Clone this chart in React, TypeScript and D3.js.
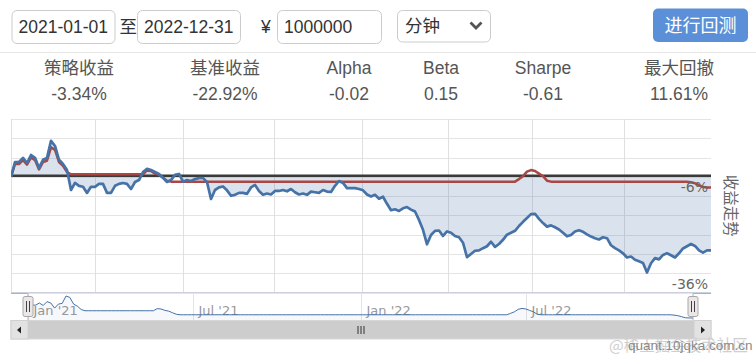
import React from "react";
import * as d3 from "d3";

// ---------- data ----------
const statLabels = ["策略收益", "基准收益", "Alpha", "Beta", "Sharpe", "最大回撤"];
const statValues = ["-3.34%", "-22.92%", "-0.02", "0.15", "-0.61", "11.61%"];

const startDate = "2021-01-01";
const endDate = "2022-12-31";
const capital = "1000000";
const frequency = "分钟";
const runLabel = "进行回测";
const axisTitle = "收益走势";

// number of trading-day intervals covered by the chart
const TRADING_DAYS = 484;

// benchmark cumulative return (%), sampled evenly over the trading days
const benchmarkReturn = [
  0, 4.6, 4.6, 5.9, 4.3, 6.8, 5.9, 2.8, 5.3, 5.9,
  11.2, 9.6, 5.3, 4.0, 2.1, -4.1, -1.9, -2.8, -3.1, -5.0,
  -3.1, -3.1, -2.2, -2.2, -5.0, -5.0, -2.8, -2.2, -1.9, -2.2,
  -3.8, -1.6, -1.0, 1.5, 2.5, 2.1, 1.5, 0.9, -0.3, -1.6,
  -1.0, 0.6, 0.9, -1.5, -1.0, -1.3, -0.7, -0.4, -0.4, -1.6,
  -6.9, -4.1, -3.3, -3.0, -4.2, -5.9, -5.6, -5.0, -5.0, -5.3,
  -3.3, -2.5, -4.4, -5.6, -5.2, -5.5, -4.4, -4.4, -4.1, -4.5,
  -3.8, -4.8, -5.5, -5.2, -5.6, -4.6, -4.8, -5.0, -4.1, -4.6,
  -4.7, -2.8, -1.3, -1.9, -3.5, -3.5, -3.5, -3.8, -4.2, -5.5,
  -6.1, -5.6, -6.8, -6.2, -8.4, -10.4, -10.1, -10.6, -9.8, -9.4,
  -10.2, -10.8, -13.4, -16.5, -21.0, -18.1, -16.8, -16.7, -18.4, -17.0,
  -17.4, -18.4, -18.8, -20.5, -25.0, -24.0, -23.0, -22.9, -22.2, -21.6,
  -20.2, -21.8, -20.9, -19.6, -18.0, -17.4, -16.8, -15.3, -14.0, -12.8,
  -11.6, -11.5, -13.1, -14.4, -15.5, -15.1, -15.7, -16.4, -17.4, -18.5,
  -18.1, -17.0, -16.6, -17.1, -17.9, -18.6, -19.1, -19.5, -18.8, -19.1,
  -21.3, -22.2, -22.9, -23.8, -25.1, -24.8, -25.8, -26.3, -26.8, -29.8,
  -26.9, -25.3, -25.7, -24.3, -23.8, -24.4, -25.1, -23.8, -22.3, -21.6,
  -20.9, -21.5, -22.9, -23.6, -22.9, -22.92,
];

// strategy cumulative return (%), same sampling
const strategyReturn = [
  0, 4.0, 4.0, 5.2, 3.8, 6.0, 5.2, 2.3, 4.6, 5.0,
  9.2, 8.4, 4.6, 3.4, 1.5, 0.8, 0.8, 0.8, 0.8, 0.8,
  0.8, 0.8, 0.8, 0.8, 0.8, 0.8, 0.8, 0.8, 0.8, 0.8,
  0.8, 0.8, 0.8, 0.8, 2.0, 1.8, 1.0, 0.6, -0.3, -1.2,
  -1.5, -1.5, -1.5, -1.5, -1.5, -1.5, -1.5, -1.5, -1.5, -1.5,
  -1.5, -1.5, -1.5, -1.5, -1.5, -1.5, -1.5, -1.5, -1.5, -1.5,
  -1.5, -1.5, -1.5, -1.5, -1.5, -1.5, -1.5, -1.5, -1.5, -1.5,
  -1.5, -1.5, -1.5, -1.5, -1.5, -1.5, -1.5, -1.5, -1.5, -1.5,
  -1.5, -1.5, -1.5, -1.5, -1.5, -1.5, -1.5, -1.5, -1.5, -1.5,
  -1.5, -1.5, -1.5, -1.5, -1.5, -1.5, -1.5, -1.5, -1.5, -1.5,
  -1.5, -1.5, -1.5, -1.5, -1.5, -1.5, -1.5, -1.5, -1.5, -1.5,
  -1.5, -1.5, -1.5, -1.5, -1.5, -1.5, -1.5, -1.5, -1.5, -1.5,
  -1.5, -1.5, -1.5, -1.5, -1.5, -1.5, -1.5, -0.7, 0.2, 1.6,
  2.1, 1.8, 1.0, 0.2, -1.2, -1.5, -1.5, -1.5, -1.5, -1.5,
  -1.5, -1.5, -1.5, -1.5, -1.5, -1.5, -1.5, -1.5, -1.5, -1.5,
  -1.5, -1.5, -1.5, -1.5, -1.5, -1.5, -1.5, -1.5, -1.5, -1.5,
  -1.5, -1.5, -1.5, -1.5, -1.5, -1.5, -1.5, -1.5, -1.5, -1.5,
  -1.7, -2.0, -2.6, -3.2, -3.3, -3.34,
];

// trading-day index of each quarter start (vertical grid lines)
const quarterStartDays = [0, 58, 119, 182, 243, 302, 360, 424];
const yGridTicks = [18, 12, 6, 0, -6, -12, -18, -24, -30, -36];
const yLabelTicks = [-6, -36];
const navTickDates = ["2021-01-01", "2021-07-01", "2022-01-01", "2022-07-01"];

// ---------- layout ----------
const W = 756;
const H = 356;
const PLOT = { left: 11, right: 711, top: 119, bottom: 292.5 };
const NAV = { left: 28, right: 693, top: 293, bottom: 320.5 };
const statCenters = [79, 225, 349, 441, 543, 679];

const BLUE = "#4572A7";
const RED = "#AA4643";
const UI_FONT = "'Liberation Sans', Arial, 'Noto Sans CJK SC', sans-serif";
const CHART_FONT = "'DejaVu Sans', Verdana, 'Noto Sans CJK SC', sans-serif";
const CJK_FONT = "'Noto Sans CJK SC', 'Liberation Sans', sans-serif";

export default function App() {
  const n = benchmarkReturn.length;
  const dayOf = (i: number) => (i * TRADING_DAYS) / (n - 1);

  const x = d3.scaleLinear().domain([0, TRADING_DAYS]).range([PLOT.left, PLOT.right]);
  const y = d3.scaleLinear().domain([-36, 18]).range([PLOT.bottom, PLOT.top]);

  const line = d3
    .line<number>()
    .x((_, i) => x(dayOf(i)))
    .y((v) => y(v));
  const area = d3
    .area<number>()
    .x((_, i) => x(dayOf(i)))
    .y0(y(0))
    .y1((v) => y(v));

  // navigator
  const nx = d3.scaleLinear().domain([0, TRADING_DAYS]).range([NAV.left, NAV.right]);
  const ext = d3.extent(strategyReturn) as [number, number];
  const ny = d3.scaleLinear().domain(ext).range([318, 296]);
  const navLine = d3
    .line<number>()
    .x((_, i) => nx(dayOf(i)))
    .y((v) => ny(v));
  const navArea = d3
    .area<number>()
    .x((_, i) => nx(dayOf(i)))
    .y0(NAV.bottom)
    .y1((v) => ny(v));
  const parse = d3.timeParse("%Y-%m-%d");
  const nt = d3
    .scaleTime()
    .domain([parse(startDate) as Date, parse(endDate) as Date])
    .range([NAV.left, NAV.right]);
  const fmt = d3.timeFormat("%b '%y");

  const inputBox = (bx: number, w: number, text: string) => (
    <g>
      <rect x={bx} y={10.5} width={w} height={33} rx={5} fill="#fff" stroke="#ccc" />
      <text x={bx + 6.5} y={32.5} fontSize={17.5} fill="#333" fontFamily={UI_FONT}>
        {text}
      </text>
    </g>
  );

  const handle = (hx: number) => (
    <g>
      <rect x={hx - 5} y={296.5} width={10} height={20} rx={2} fill="#ebe7e8" stroke="#a8a8a8" />
      <line x1={hx - 1.5} x2={hx - 1.5} y1={301} y2={312} stroke="#444" strokeWidth={1} />
      <line x1={hx + 1.5} x2={hx + 1.5} y1={301} y2={312} stroke="#444" strokeWidth={1} />
    </g>
  );

  return (
    <div style={{ position: "absolute", left: 0, top: 0, width: W, height: H }}>
      <svg width={W} height={H} viewBox={`0 0 ${W} ${H}`} style={{ display: "block" }}>
        <rect x={0} y={0} width={W} height={H} fill="#fff" />

        {/* header controls */}
        {inputBox(12, 103, startDate)}
        <text x={119.5} y={32.5} fontSize={17.5} fill="#333" fontFamily={CJK_FONT}>至</text>
        {inputBox(137.5, 103, endDate)}
        <text x={261} y={32.5} fontSize={17.5} fill="#333" fontFamily={UI_FONT}>¥</text>
        {inputBox(277.5, 104, capital)}
        <rect x={397.5} y={10.5} width={93} height={31.5} rx={5} fill="#fff" stroke="#ccc" />
        <text x={405} y={32} fontSize={17.5} fill="#333" fontFamily={CJK_FONT}>{frequency}</text>
        <polyline points="470.5,22.5 476,28 481.5,22.5" fill="none" stroke="#555" strokeWidth={2.8} />
        <rect x={653} y={8.5} width={95} height={33.5} rx={5} fill="#5b8fd8" />
        <text x={700.5} y={32} fontSize={18} fill="#fff" textAnchor="middle" fontFamily={CJK_FONT}>
          {runLabel}
        </text>
        <line x1={0} x2={W} y1={52.5} y2={52.5} stroke="#e6e6e6" />

        {/* stats */}
        {statLabels.map((s, i) => (
          <text key={"l" + i} x={statCenters[i]} y={74} fontSize={17.5} fill="#555" textAnchor="middle" fontFamily={UI_FONT}>
            {s}
          </text>
        ))}
        {statValues.map((s, i) => (
          <text key={"v" + i} x={statCenters[i]} y={99.5} fontSize={17.5} fill="#555" textAnchor="middle" fontFamily={UI_FONT}>
            {s}
          </text>
        ))}

        {/* plot grid */}
        <defs>
          <clipPath id="plotClip">
            <rect x={PLOT.left} y={PLOT.top - 5} width={PLOT.right - PLOT.left + 2} height={PLOT.bottom - PLOT.top + 5} />
          </clipPath>
        </defs>
        {yGridTicks.map((t) => (
          <line key={"yg" + t} x1={PLOT.left} x2={PLOT.right} y1={Math.round(y(t)) + 0.5} y2={Math.round(y(t)) + 0.5} stroke="#e4e4e4" />
        ))}
        {quarterStartDays.map((d) => (
          <line key={"xg" + d} x1={Math.round(x(d)) + 0.5} x2={Math.round(x(d)) + 0.5} y1={PLOT.top} y2={PLOT.bottom} stroke="#e0e0e0" />
        ))}
        <line x1={PLOT.left} x2={PLOT.right} y1={PLOT.bottom} y2={PLOT.bottom} stroke="#ccd0dc" />

        <g clipPath="url(#plotClip)">
          <path d={area(benchmarkReturn) || ""} fill={BLUE} fillOpacity={0.2} />
          <line x1={PLOT.left} x2={PLOT.right} y1={y(0) - 1} y2={y(0) - 1} stroke="#3a3a3a" strokeWidth={2.5} />
          <path d={line(strategyReturn) || ""} fill="none" stroke={RED} strokeWidth={2.5} strokeLinejoin="round" />
          <path d={line(benchmarkReturn) || ""} fill="none" stroke={BLUE} strokeWidth={2.7} strokeLinejoin="round" />
        </g>

        {yLabelTicks.map((t) => (
          <text key={"yl" + t} x={708} y={y(t) - 4} fontSize={14} fill="#666" textAnchor="end" fontFamily={CHART_FONT}>
            {`${t}%`}
          </text>
        ))}
        <text
          transform={`translate(725,${(PLOT.top + PLOT.bottom) / 2}) rotate(90)`}
          fontSize={15.5}
          fill="#666"
          textAnchor="middle"
          fontFamily={CJK_FONT}
        >
          {axisTitle}
        </text>

        {/* navigator */}
        {navTickDates.map((s) => {
          const d = parse(s) as Date;
          const px = Math.round(nt(d)) + 0.5;
          return (
            <g key={"nt" + s}>
              <line x1={px} x2={px} y1={NAV.top} y2={NAV.bottom} stroke="#e4e4e4" />
              <text x={px + 5} y={315} fontSize={13} fill="#999" fontFamily={CHART_FONT}>
                {fmt(d)}
              </text>
            </g>
          );
        })}
        <path d={navArea(strategyReturn) || ""} fill={BLUE} fillOpacity={0.05} />
        <path d={navLine(strategyReturn) || ""} fill="none" stroke={BLUE} strokeWidth={1} />
        <path
          d={`M${PLOT.left},${NAV.top + 0.5}L${NAV.left},${NAV.top + 0.5}L${NAV.left},${NAV.bottom}M${NAV.right},${NAV.bottom}L${NAV.right},${NAV.top + 0.5}L${PLOT.right},${NAV.top + 0.5}`}
          fill="none"
          stroke="#b2b1b6"
        />
        {handle(NAV.left)}
        {handle(NAV.right)}

        {/* scrollbar */}
        <rect x={PLOT.left} y={320.5} width={PLOT.right - PLOT.left} height={18.5} fill="#cdcdcd" stroke="#d6d6d6" />
        <rect x={PLOT.left} y={320.5} width={17} height={18.5} fill="#e2e2e2" stroke="#d0d0d0" />
        <rect x={PLOT.right - 17} y={320.5} width={17} height={18.5} fill="#e2e2e2" stroke="#d0d0d0" />
        <path d={`M${PLOT.left + 6},${330}L${PLOT.left + 10},${326.5}L${PLOT.left + 10},${333.5}Z`} fill="#222" />
        <path d={`M${PLOT.right - 6},${330}L${PLOT.right - 10},${326.5}L${PLOT.right - 10},${333.5}Z`} fill="#222" />
        {[-3, 0, 3].map((o) => (
          <line key={"g" + o} x1={361 + o} x2={361 + o} y1={326} y2={334} stroke="#333" />
        ))}

        {/* watermark */}
        <text x={609} y={351} fontSize={15.5} fill="#cfcfcf" fontFamily={CJK_FONT}>@稀土掘金技术社区</text>
        <text x={628} y={350} fontSize={13.5} fill="#8a8a8a" fontFamily={UI_FONT}>quant.10jqka.com.cn</text>
      </svg>
    </div>
  );
}
